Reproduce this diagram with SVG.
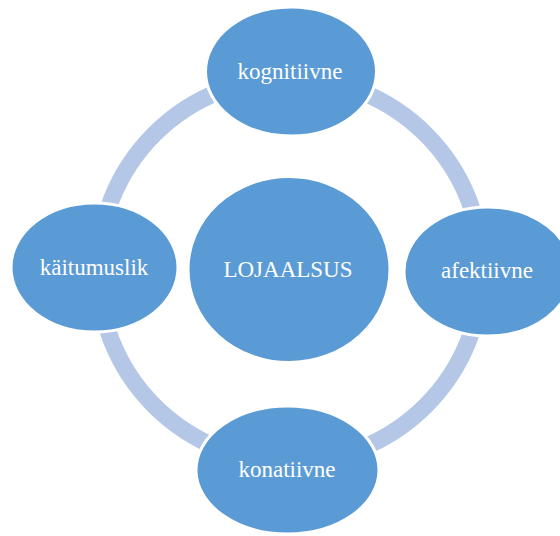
<svg xmlns="http://www.w3.org/2000/svg" width="560" height="536" viewBox="0 0 560 536">
<style>
.ring{fill:none;stroke:#b4c7e7;stroke-width:17}
.node{fill:#5b9bd5;stroke:#ffffff;stroke-width:3}
.lbl{font-family:"Liberation Serif","Times New Roman",serif;font-size:23px;fill:#ffffff;text-anchor:middle}
</style>
<rect width="560" height="536" fill="#ffffff"/>
<g id="connectors">
<path class="ring" d="M290,78 A192,192 0 0 1 482,270"/>
<path class="ring" d="M482,270 A192,192 0 0 1 290,462"/>
<path class="ring" d="M290,462 A192,192 0 0 1 98,270"/>
<path class="ring" d="M98,270 A192,192 0 0 1 290,78"/>
</g>
<g id="node-center">
<ellipse class="node" cx="289" cy="269.5" rx="101" ry="93"/>
<text class="lbl" x="288" y="277">LOJAALSUS</text>
</g>
<g id="node-kognitiivne">
<ellipse class="node" cx="291" cy="71.5" rx="85.5" ry="64.5"/>
<text class="lbl" x="290" y="79">kognitiivne</text>
</g>
<g id="node-afektiivne">
<ellipse class="node" cx="488" cy="271.5" rx="84" ry="64.5"/>
<text class="lbl" x="487" y="278">afektiivne</text>
</g>
<g id="node-konatiivne">
<ellipse class="node" cx="287.5" cy="470" rx="91.5" ry="64"/>
<text class="lbl" x="287" y="477">konatiivne</text>
</g>
<g id="node-kaitumuslik">
<ellipse class="node" cx="94.5" cy="267.5" rx="83.5" ry="64.5"/>
<text class="lbl" x="94" y="275">käitumuslik</text>
</g>
</svg>
